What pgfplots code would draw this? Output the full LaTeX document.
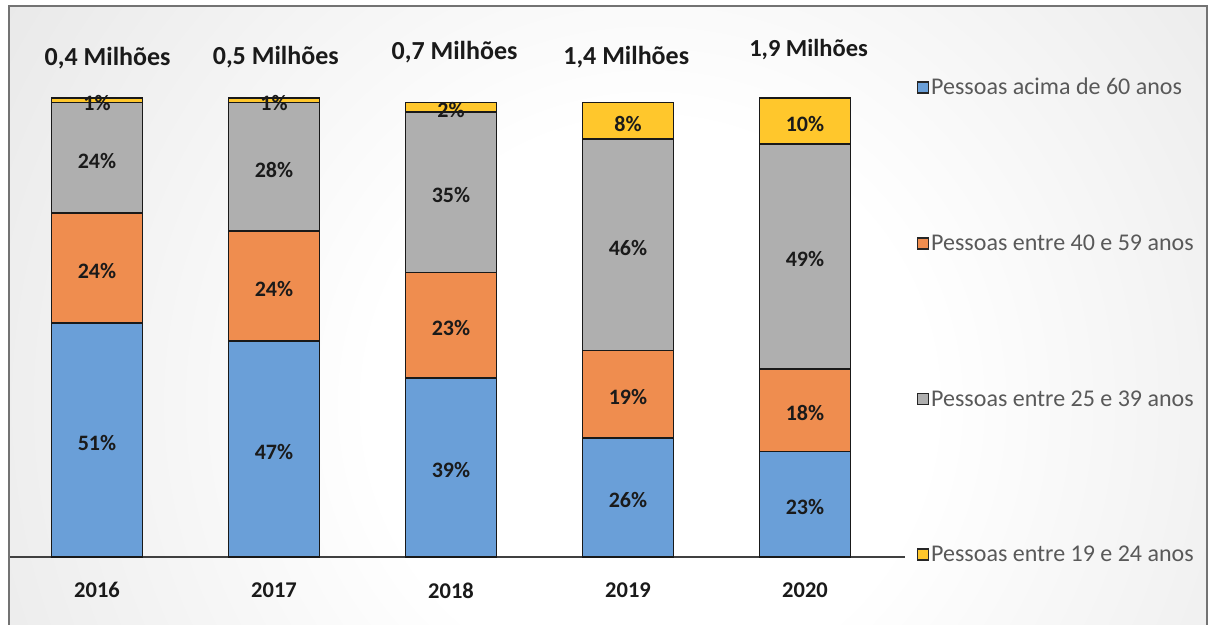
\documentclass[border=0pt]{standalone}
\usepackage{pgfplots}
\pgfplotsset{compat=1.18}
\usepackage{fontspec}
\setmainfont{Carlito}

\definecolor{cblue}{HTML}{6A9FD8}
\definecolor{corange}{HTML}{EF8D4F}
\definecolor{cgray}{HTML}{AFAFAF}
\definecolor{cyellow}{HTML}{FFC72C}
\definecolor{ctext}{HTML}{1A1A1A}
\definecolor{clegend}{HTML}{595959}

% light spot in the middle of the chart area, greyer towards the edges
\pgfdeclareradialshading{bgshade}{\pgfpoint{0bp}{0bp}}{%
  color(0bp)=(white); color(7bp)=(white); color(25bp)=(black!13);
  color(32bp)=(black!21); color(50bp)=(black!24)}

\begin{document}
\begin{tikzpicture}[x=1pt,y=1pt]
  \useasboundingbox (0,0) rectangle (1209,624);
  \fill[white] (0,0) rectangle (1209,624);
  \begin{scope}
    \clip (9,0) rectangle (1207,618);
    \shade[shading=bgshade] (650,220) circle (1000);
  \end{scope}
  \draw[black!55, line width=2pt] (9,-5) -- (9,618) -- (1207,618) -- (1207,-5);

  \begin{axis}[
      at={(10pt,67pt)}, anchor=south west,
      scale only axis,
      width=895pt, height=551pt,
      xmin=-0.4915, xmax=4.565,
      ymin=0, ymax=120.04,
      enlargelimits=false,
      ybar stacked,
      bar width=91pt,
      axis x line*=bottom,
      axis y line=none,
      x axis line style={-, line width=2pt, draw=black!75},
      xtick={0,1,2,3,4},
      xticklabels={2016,2017,2018,2019,2020},
      major tick length=0pt,
      xticklabel style={font=\bfseries\fontsize{22.5}{26}\selectfont, text=ctext, yshift=-22pt},
      clip=false,
      every axis plot/.append style={draw=black!90, line width=1.8pt},
      visualization depends on=rawy \as \rawy,
      nodes near coords={\pgfmathprintnumber[assume math mode=true]{\rawy}\%},
      every node near coord/.append style={anchor=center, yshift=-3pt,
        font=\bfseries\fontsize{22}{25}\selectfont, text=ctext},
      legend style={at={(1.0095,0.8766)}, anchor=north west, draw=none, fill=none,
        font=\fontsize{24}{28}\selectfont, text=clegend, row sep=134.5pt,
        nodes={inner sep=2pt}},
      legend cell align=left,
      legend image code/.code={\draw[#1, draw=black!85, line width=1.5pt] (0pt,-5.5pt) rectangle (11pt,5.5pt);},
    ]

    % Pessoas acima de 60 anos
    \addplot[fill=cblue] coordinates {(0,51) (1,47) (2,39) (3,26) (4,23)};
    % Pessoas entre 40 e 59 anos
    \addplot[fill=corange] coordinates {(0,24) (1,24) (2,23) (3,19) (4,18)};
    % Pessoas entre 25 e 39 anos
    \addplot[fill=cgray] coordinates {(0,24) (1,28) (2,35) (3,46) (4,49)};
    % Pessoas entre 19 e 24 anos
    \addplot[fill=cyellow] coordinates {(0,1) (1,1) (2,2) (3,8) (4,10)};

    \legend{Pessoas acima de 60 anos, Pessoas entre 40 e 59 anos,
      Pessoas entre 25 e 39 anos, Pessoas entre 19 e 24 anos}

    % totals above the bars
    \node[font=\bfseries\fontsize{26}{30}\selectfont, text=ctext] at (axis cs:0.06,108.7) {0,4 Milhões};
    \node[font=\bfseries\fontsize{26}{30}\selectfont, text=ctext] at (axis cs:1.01,108.9) {0,5 Milhões};
    \node[font=\bfseries\fontsize{26}{30}\selectfont, text=ctext] at (axis cs:2.02,110.0) {0,7 Milhões};
    \node[font=\bfseries\fontsize{26}{30}\selectfont, text=ctext] at (axis cs:2.99,108.9) {1,4 Milhões};
    \node[font=\bfseries\fontsize{24.5}{28}\selectfont, text=ctext] at (axis cs:4.02,110.5) {1,9 Milhões};
  \end{axis}
\end{tikzpicture}
\end{document}
